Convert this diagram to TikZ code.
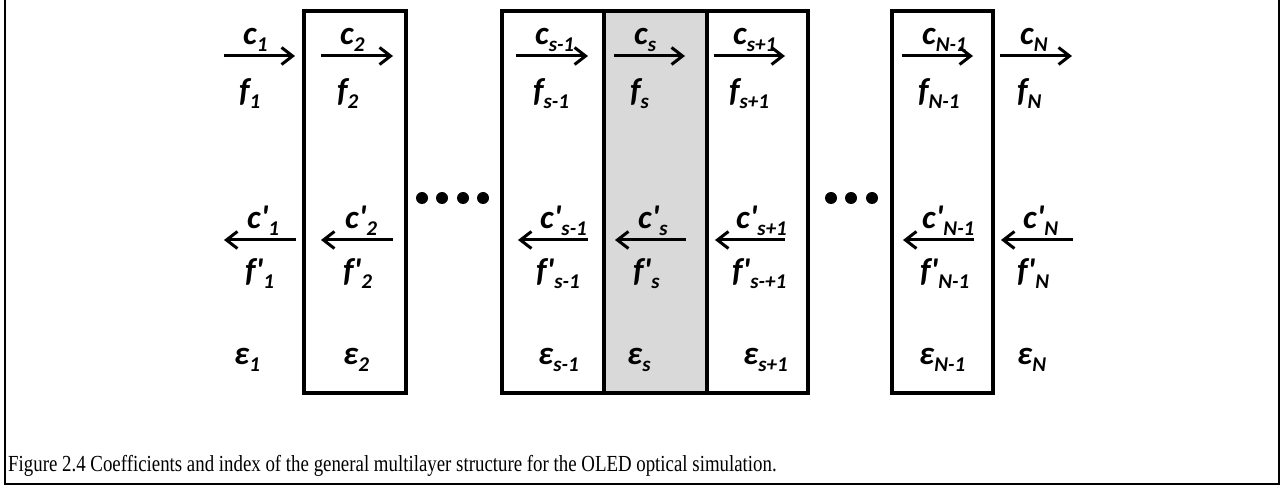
\documentclass[tikz,border=0pt]{standalone}
\usepackage{fontspec}
\newfontfamily\lblfont{Carlito}
\newfontfamily\capfont{Liberation Serif}
\usetikzlibrary{arrows.meta}
\newcommand\lsb[1]{\raisebox{-7pt}{\fontsize{21}{21}\selectfont #1}}
\begin{document}
\begin{tikzpicture}[x=1pt,y=-1pt,
  layerbox/.style={draw,line width=3.5pt,inner sep=0pt,outer sep=0pt,minimum width=#1,minimum height=382pt},
  lbl/.style={anchor=base west,inner sep=0pt,font=\lblfont\fontsize{33}{33}\selectfont\bfseries\itshape},
  arr/.style={line width=3pt,-{Straight Barb[length=11pt,width=17pt,line width=3pt]}},
  dot/.style={fill=black}]
\useasboundingbox (0,0) rectangle (1288,486);
\draw[line width=2pt] (5,-2) -- (5,484) -- (1279,484) -- (1279,-2);
% boxes
\node[layerbox=102pt] (b2) at (355,202) {};
\node[layerbox=102pt] (bsm) at (553,202) {};
\node[layerbox=103pt,fill=black!15,line width=4.5pt] (bs) at (655.5,202) {};
\node[layerbox=101pt] (bsp) at (757.5,202) {};
\node[layerbox=101pt] (bnm) at (942.5,202) {};
% dots
\foreach \x in {422,442,463,483} \fill[dot] (\x,198) circle (6);
\foreach \x in {831,851,872} \fill[dot] (\x,198) circle (6);
% forward arrows
\foreach \n/\a/\b in {1/224/295, 2/321/393, 3/516/588, 4/614/685, 5/714/785, 6/902/973, 7/1000/1072}{
  \coordinate (fs\n) at (\a,56); \coordinate (fe\n) at (\b,56);
  \draw[arr] (fs\n) -- (fe\n);
}
% backward arrows
\foreach \n/\a/\b in {1/296/224, 2/393/321, 3/588/518, 4/686/615, 5/785/715, 6/974/903, 7/1073/1001}{
  \coordinate (bs\n) at (\a,240); \coordinate (be\n) at (\b,240);
  \draw[arr] (bs\n) -- (be\n);
}
% c labels
\node[lbl] (c1) at (243,45) {c\lsb{1}};
\node[lbl] (c2) at (340,45) {c\lsb{2}};
\node[lbl] (c3) at (535,45) {c\lsb{s-1}};
\node[lbl] (c4) at (634,45) {c\lsb{s}};
\node[lbl] (c5) at (733,45) {c\lsb{s+1}};
\node[lbl] (c6) at (922,45) {c\lsb{N-1}};
\node[lbl] (c7) at (1020,45) {c\lsb{N}};
% f labels
\node[lbl] (f1) at (239,102) {f\lsb{1}};
\node[lbl] (f2) at (337,102) {f\lsb{2}};
\node[lbl] (f3) at (533,102) {f\lsb{s-1}};
\node[lbl] (f4) at (630,102) {f\lsb{s}};
\node[lbl] (f5) at (729,102) {f\lsb{s+1}};
\node[lbl] (f6) at (918,102) {f\lsb{N-1}};
\node[lbl] (f7) at (1017,102) {f\lsb{N}};
% c' labels
\node[lbl] (cp1) at (247,229) {c'\lsb{1}};
\node[lbl] (cp2) at (345,229) {c'\lsb{2}};
\node[lbl] (cp3) at (540,229) {c'\lsb{s-1}};
\node[lbl] (cp4) at (638,229) {c'\lsb{s}};
\node[lbl] (cp5) at (736,229) {c'\lsb{s+1}};
\node[lbl] (cp6) at (922,229) {c'\lsb{N-1}};
\node[lbl] (cp7) at (1023,229) {c'\lsb{N}};
% f' labels
\node[lbl] (fp1) at (245,282) {f'\lsb{1}};
\node[lbl] (fp2) at (343,282) {f'\lsb{2}};
\node[lbl] (fp3) at (536,282) {f'\lsb{s-1}};
\node[lbl] (fp4) at (633,282) {f'\lsb{s}};
\node[lbl] (fp5) at (732,282) {f'\lsb{s-+1}};
\node[lbl] (fp6) at (920,282) {f'\lsb{N-1}};
\node[lbl] (fp7) at (1017,282) {f'\lsb{N}};
% epsilon labels
\node[lbl] (e1) at (234,364) {ε\lsb{1}};
\node[lbl] (e2) at (343,364) {ε\lsb{2}};
\node[lbl] (e3) at (538,364) {ε\lsb{s-1}};
\node[lbl] (e4) at (627,364) {ε\lsb{s}};
\node[lbl] (e5) at (743,364) {ε\lsb{s+1}};
\node[lbl] (e6) at (919,364) {ε\lsb{N-1}};
\node[lbl] (e7) at (1017,364) {ε\lsb{N}};
% caption
\node[anchor=base west,inner sep=0pt,font=\capfont\fontsize{23}{23}\selectfont] (cap) at (8,471)
  {\scalebox{0.82}[1]{Figure 2.4 Coefficients and index of the general multilayer structure for the OLED optical simulation.}};
\end{tikzpicture}
\end{document}
